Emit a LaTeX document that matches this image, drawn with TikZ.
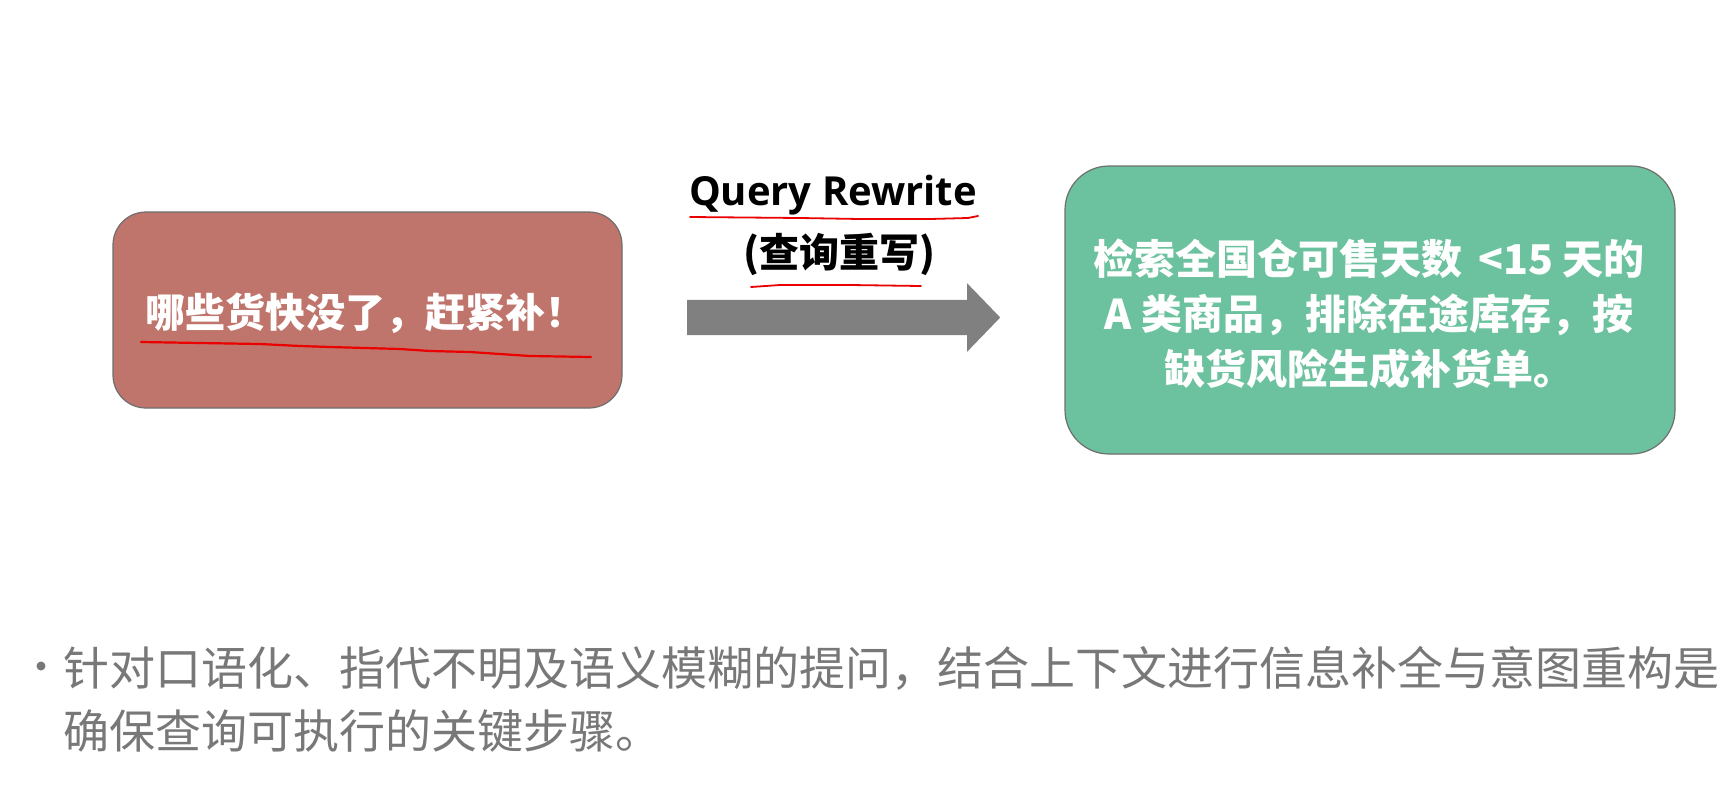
\documentclass[tikz,border=0pt]{standalone}
\usepackage{fontspec}
\usetikzlibrary{shapes.arrows}
\newfontfamily\cjk{Noto Sans CJK SC}
\newfontfamily\latb{Open Sans}
\definecolor{redfill}{RGB}{192,117,108}
\definecolor{greenfill}{RGB}{108,194,158}
\definecolor{boxline}{RGB}{110,110,110}
\definecolor{arrowgray}{RGB}{128,128,128}
\definecolor{bodygray}{RGB}{120,120,120}
\definecolor{penred}{RGB}{235,0,0}
\tikzset{
  box/.style={draw=boxline, line width=1.2pt, rounded corners=#1, inner sep=0pt},
  boxtext/.style={text=white, font=\cjk\bfseries\fontsize{41}{55}\selectfont, align=center, inner sep=0pt},
  pen/.style={draw=penred, line width=2.2pt, line cap=round, line join=round},
}
\begin{document}
\begin{tikzpicture}[x=1pt,y=-1pt]
\useasboundingbox (0,0) rectangle (1731,790);
\fill[white] (0,0) rectangle (1731,790);

% boxes
\node[box=33pt, fill=redfill, minimum width=509pt, minimum height=196pt] (src) at (367.5,310) {};
\node[box=44pt, fill=greenfill, minimum width=610pt, minimum height=288pt] (dst) at (1370,310) {};

\node[boxtext, anchor=west, font=\cjk\bfseries\fontsize{40}{55}\selectfont] (srctext) at (145,313) {哪些货快没了，赶紧补！};
\node[boxtext] (dsttext) at (1369,314) {检索全国仓可售天数 \,<15 天的\\A 类商品，排除在途库存，按\\缺货风险生成补货单。};

% arrow
\coordinate (arrtail) at (687,317.5);
\node[single arrow, fill=arrowgray, draw=none, inner xsep=0pt, inner ysep=17.5pt, minimum height=313pt,
      single arrow head extend=16.5pt, single arrow tip angle=92, anchor=tail] (arr) at (arrtail) {};

% labels
\node[inner sep=0pt, font=\latb\bfseries\fontsize{40}{42}\selectfont] (qr) at (833,195) {Query Rewrite};
\node[inner sep=0pt, font=\cjk\bfseries\fontsize{40}{44}\selectfont] (qrcn) at (839,254) {(查询重写)};

% hand-drawn underlines
\draw[pen] (141,342) -- (200,343) -- (260,344) -- (300,346) -- (330,347) -- (400,349) -- (430,351) -- (470,352) -- (500,354) -- (530,356) -- (591,357);
\draw[pen, line width=1.8pt] (690,217) -- (800,218) -- (860,219) -- (930,219) -- (968,218) -- (978,216);
\draw[pen, line width=1.8pt] (751,287) -- (780,285) -- (850,285) -- (921,286);

% bullet text
\fill[bodygray] (41,666) circle (4.5pt);
\node[anchor=west, inner sep=0pt, text=bodygray, align=left, font=\cjk\fontsize{46}{63}\selectfont] (body) at (63,699)
  {针对口语化、指代不明及语义模糊的提问，结合上下文进行信息补全与意图重构是\\确保查询可执行的关键步骤。};
\end{tikzpicture}
\end{document}
